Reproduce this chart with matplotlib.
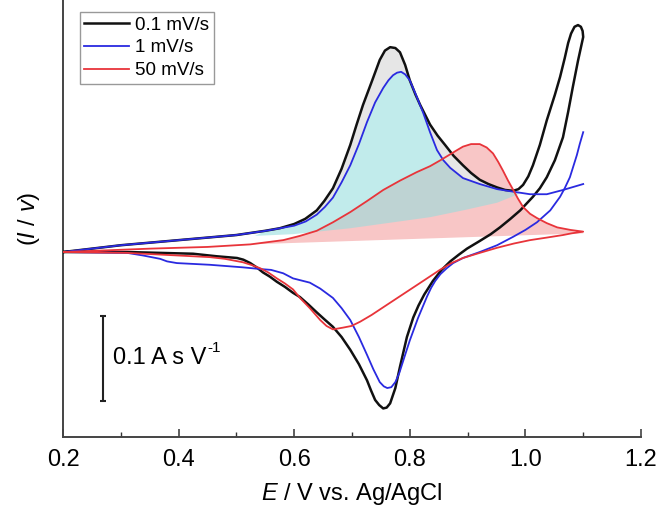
import matplotlib
matplotlib.use("Agg")
import matplotlib.pyplot as plt
from matplotlib.ticker import MultipleLocator

plt.rcParams['font.family'] = ['Liberation Sans', 'DejaVu Sans']
plt.rcParams['mathtext.fontset'] = 'custom'
plt.rcParams['mathtext.rm'] = 'Liberation Sans'
plt.rcParams['mathtext.it'] = 'Liberation Sans:italic'

# ---- data (E in V vs Ag/AgCl, I/v in A s V^-1) ----
labels = ['0.1 mV/s', '1 mV/s', '50 mV/s']

black_fwd_x = [0.200, 0.250, 0.300, 0.350, 0.400, 0.450, 0.500, 0.550, 0.575, 0.600, 0.619, 0.639,
               0.652, 0.667, 0.682, 0.697, 0.708, 0.719, 0.735, 0.748, 0.757, 0.766, 0.775, 0.783,
               0.792, 0.800, 0.810, 0.818, 0.835, 0.848, 0.861, 0.876, 0.892, 0.906, 0.921, 0.936,
               0.951, 0.965, 0.979, 0.988, 0.996, 1.005, 1.013, 1.025, 1.037, 1.051, 1.060, 1.068,
               1.074, 1.079, 1.085, 1.091, 1.096, 1.099, 1.100]
black_fwd_y = [0.000, 0.004, 0.008, 0.011, 0.014, 0.017, 0.020, 0.025, 0.028, 0.033, 0.039, 0.049,
               0.060, 0.075, 0.098, 0.126, 0.150, 0.173, 0.202, 0.226, 0.237, 0.241, 0.240, 0.235,
               0.220, 0.202, 0.185, 0.173, 0.150, 0.137, 0.126, 0.113, 0.102, 0.093, 0.085, 0.080,
               0.076, 0.073, 0.072, 0.074, 0.079, 0.089, 0.102, 0.126, 0.155, 0.185, 0.206, 0.228,
               0.246, 0.257, 0.265, 0.267, 0.265, 0.260, 0.253]
black_rev_x = [1.100, 1.091, 1.082, 1.074, 1.065, 1.051, 1.037, 1.025, 1.013, 0.991, 0.974, 0.956,
               0.940, 0.921, 0.899, 0.885, 0.870, 0.855, 0.840, 0.825, 0.815, 0.806, 0.795, 0.783,
               0.775, 0.766, 0.760, 0.754, 0.747, 0.740, 0.733, 0.726, 0.712, 0.697, 0.682, 0.667,
               0.652, 0.639, 0.625, 0.610, 0.598, 0.584, 0.570, 0.558, 0.546, 0.535, 0.524, 0.512,
               0.501, 0.466, 0.425, 0.368, 0.311, 0.200]
black_rev_y = [0.253, 0.225, 0.194, 0.165, 0.135, 0.108, 0.088, 0.075, 0.065, 0.049, 0.039, 0.029,
               0.021, 0.013, 0.004, -0.003, -0.011, -0.021, -0.034, -0.050, -0.063, -0.077, -0.100,
               -0.135, -0.160, -0.178, -0.183, -0.184, -0.180, -0.174, -0.163, -0.151, -0.132, -0.115,
               -0.100, -0.088, -0.079, -0.071, -0.062, -0.053, -0.048, -0.041, -0.035, -0.029, -0.024,
               -0.018, -0.013, -0.009, -0.007, -0.005, -0.002, -0.001, 0.000, 0.000]

blue_fwd_x = [0.200, 0.300, 0.400, 0.500, 0.551, 0.600, 0.620, 0.639, 0.653, 0.667, 0.682, 0.697,
              0.712, 0.726, 0.740, 0.754, 0.763, 0.771, 0.778, 0.785, 0.792, 0.800, 0.810, 0.823,
              0.835, 0.847, 0.858, 0.870, 0.892, 0.921, 0.951, 0.979, 1.008, 1.037, 1.065, 1.100]
blue_fwd_y = [0.000, 0.008, 0.014, 0.020, 0.025, 0.031, 0.036, 0.044, 0.053, 0.064, 0.082, 0.102,
              0.127, 0.153, 0.176, 0.193, 0.202, 0.208, 0.211, 0.212, 0.209, 0.202, 0.186, 0.164,
              0.141, 0.120, 0.108, 0.099, 0.087, 0.080, 0.074, 0.071, 0.068, 0.068, 0.073, 0.080]
blue_rev_x = [1.100, 1.094, 1.089, 1.077, 1.068, 1.060, 1.043, 1.020, 1.000, 0.979, 0.951, 0.921,
              0.892, 0.875, 0.864, 0.853, 0.844, 0.837, 0.830, 0.822, 0.814, 0.807, 0.800, 0.790,
              0.782, 0.775, 0.768, 0.761, 0.755, 0.748, 0.737, 0.726, 0.712, 0.697, 0.682, 0.667,
              0.645, 0.627, 0.598, 0.581, 0.560, 0.541, 0.511, 0.454, 0.397, 0.380, 0.368, 0.353,
              0.338, 0.311, 0.200]
blue_rev_y = [0.141, 0.127, 0.114, 0.088, 0.075, 0.065, 0.049, 0.035, 0.026, 0.018, 0.008, 0.000,
              -0.007, -0.013, -0.019, -0.026, -0.034, -0.042, -0.052, -0.065, -0.078, -0.091, -0.104,
              -0.125, -0.142, -0.153, -0.159, -0.160, -0.158, -0.153, -0.138, -0.121, -0.100, -0.080,
              -0.066, -0.054, -0.043, -0.036, -0.031, -0.025, -0.021, -0.020, -0.018, -0.015, -0.013,
              -0.011, -0.008, -0.006, -0.004, -0.001, 0.000]

red_fwd_x = [0.200, 0.351, 0.450, 0.524, 0.581, 0.610, 0.639, 0.667, 0.697, 0.726, 0.754, 0.783,
             0.812, 0.835, 0.853, 0.870, 0.882, 0.892, 0.906, 0.921, 0.933, 0.944, 0.953, 0.961,
             0.970, 0.979, 0.987, 0.996, 1.008, 1.020, 1.037, 1.055, 1.078, 1.100]
red_fwd_y = [0.000, 0.004, 0.006, 0.009, 0.014, 0.019, 0.025, 0.035, 0.047, 0.060, 0.073, 0.084,
             0.094, 0.101, 0.108, 0.115, 0.120, 0.124, 0.127, 0.127, 0.123, 0.116, 0.106, 0.096,
             0.084, 0.073, 0.063, 0.053, 0.045, 0.040, 0.034, 0.029, 0.026, 0.024]
red_rev_x = [1.100, 1.080, 1.065, 1.037, 1.008, 0.980, 0.951, 0.921, 0.892, 0.872, 0.852, 0.832,
             0.812, 0.783, 0.754, 0.734, 0.714, 0.699, 0.684, 0.667, 0.656, 0.645, 0.627, 0.610,
             0.598, 0.584, 0.570, 0.555, 0.541, 0.525, 0.511, 0.480, 0.454, 0.397, 0.311, 0.200]
red_rev_y = [0.024, 0.022, 0.020, 0.017, 0.014, 0.010, 0.005, -0.001, -0.007, -0.013, -0.021, -0.030,
             -0.039, -0.052, -0.065, -0.074, -0.082, -0.087, -0.089, -0.091, -0.087, -0.080, -0.066,
             -0.054, -0.044, -0.037, -0.031, -0.024, -0.019, -0.015, -0.012, -0.008, -0.006, -0.004,
             -0.001, 0.000]

# background (baseline) lines that bound the shaded peak areas
cyan_base_x = [0.532, 0.598, 0.697, 0.835, 0.892, 0.951, 0.991]
cyan_base_y = [0.019, 0.021, 0.028, 0.041, 0.049, 0.058, 0.069]
pink_base_x = [0.524, 1.100]
pink_base_y = [0.009, 0.022]

scale_bar = 0.1  # A s V^-1

xticks = [0.2, 0.4, 0.6, 0.8, 1.0, 1.2]

# ---- figure ----
fig = plt.figure(figsize=(6.71, 5.09), dpi=100)
ax = fig.add_axes([63/671, 72/509, 578/671, 437/509])

c_black = '#111111'
c_blue = '#2a2ae0'
c_red = '#e8343a'

def polygon(x1, y1, x2, y2, lo, hi):
    px = [x for x in x1 if lo <= x <= hi]
    py = [y for x, y in zip(x1, y1) if lo <= x <= hi]
    qx = [x for x in x2 if lo <= x <= hi][::-1]
    qy = [y for x, y in zip(x2, y2) if lo <= x <= hi][::-1]
    return px + qx, py + qy

# pink area under 50 mV/s peak
px, py = polygon(red_fwd_x, red_fwd_y, pink_base_x, pink_base_y, 0.52, 1.1)
ax.fill(px, py, color='#f8c6c6', lw=0, zorder=1)
# grey area (0.1 mV/s above 1 mV/s)
px, py = polygon(black_fwd_x, black_fwd_y, blue_fwd_x, blue_fwd_y, 0.55, 0.98)
ax.fill(px, py, color='#e6e6e6', lw=0, zorder=1.5)
# cyan area under 1 mV/s peak
px, py = polygon(blue_fwd_x, blue_fwd_y, cyan_base_x, cyan_base_y, 0.53, 0.995)
ax.fill(px, py, color=(0.58, 0.866, 0.87), alpha=0.58, lw=0, zorder=2)

ax.plot(black_fwd_x + black_rev_x, black_fwd_y + black_rev_y, color=c_black, lw=1.8,
        label=labels[0], zorder=3, solid_joinstyle='round')
ax.plot(blue_fwd_x, blue_fwd_y, color=c_blue, lw=1.3, label=labels[1], zorder=3,
        solid_joinstyle='round')
ax.plot(blue_rev_x, blue_rev_y, color=c_blue, lw=1.3, zorder=3, solid_joinstyle='round')
ax.plot(red_fwd_x + red_rev_x, red_fwd_y + red_rev_y, color=c_red, lw=1.3,
        label=labels[2], zorder=3, solid_joinstyle='round')

# scale bar
ax.errorbar([0.269], [-0.125], yerr=[scale_bar / 2], color='#222222', lw=1.5, capsize=2,
            capthick=1.5, zorder=3)
sb = ax.text(0.2865, -0.125, '0.1 A s V', fontsize=17, va='center', ha='left')

ax.set_xlim(0.2, 1.2)
ax.set_ylim(-0.2176, 0.2965)
ax.set_xticks(xticks)
ax.set_xticklabels(['%.1f' % t for t in xticks])
ax.xaxis.set_minor_locator(MultipleLocator(0.1))
ax.tick_params(axis='x', which='major', direction='in', length=6, width=1.1, labelsize=17, pad=9,
               color='#333333')
ax.tick_params(axis='x', which='minor', direction='in', length=3.5, width=1.0, color='#333333')
ax.set_yticks([])
for s in ['top', 'right']:
    ax.spines[s].set_visible(False)
for s in ['left', 'bottom']:
    ax.spines[s].set_color('#444444')
    ax.spines[s].set_linewidth(1.4)

ax.set_xlabel('$E$ / V vs. Ag/AgCl', fontsize=17, labelpad=7)
ax.set_ylabel('($I$ / $v$)', fontsize=17, labelpad=15)

leg = ax.legend(loc='upper left', bbox_to_anchor=(0.029, 0.973), borderaxespad=0,
                fontsize=13.5, frameon=True, fancybox=False, edgecolor='#999999', framealpha=1,
                handlelength=2.4, handletextpad=0.3, labelspacing=0.3, borderpad=0.25)
leg.get_frame().set_linewidth(1.0)

# superscript "-1" with a plain hyphen, placed right after the unit text
fig.canvas.draw()
bb = sb.get_window_extent()
fig.text(bb.x1 + 1, bb.y1 - 8, '-1', fontsize=11, ha='left', va='bottom',
         transform=None)

fig.savefig('out.png', dpi=100)
